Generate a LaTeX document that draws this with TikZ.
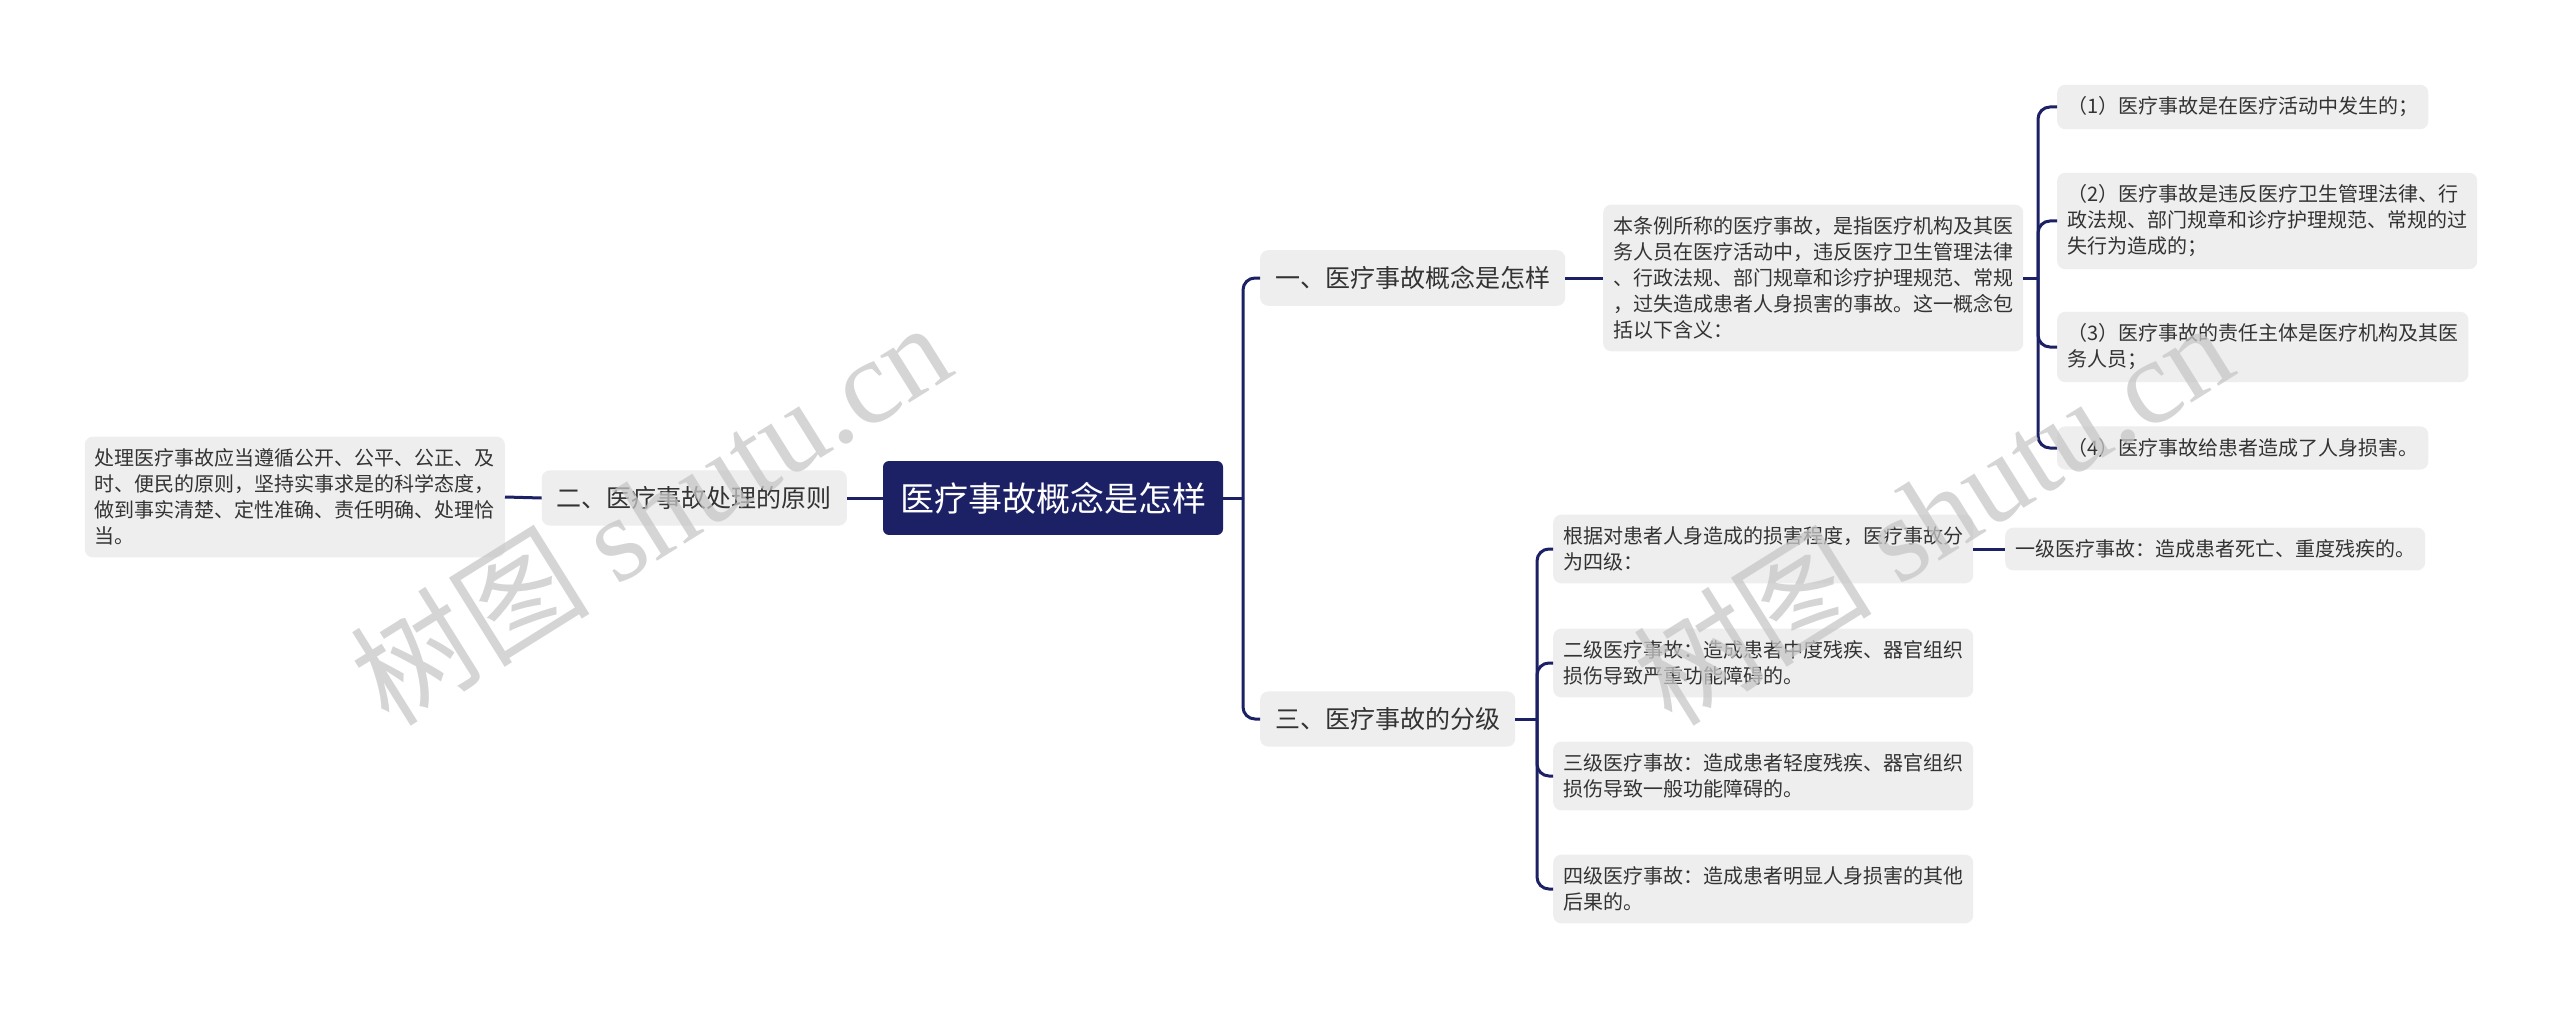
\documentclass[tikz,border=0pt]{standalone}
\usepackage{fontspec}
\setmainfont{Noto Sans CJK SC}
\newfontfamily\wmserif{Liberation Serif}
\definecolor{navy}{RGB}{28,33,102}
\definecolor{boxgray}{RGB}{238,238,238}
\definecolor{inkgray}{RGB}{51,51,51}
\usetikzlibrary{positioning}

\begin{document}
\begin{tikzpicture}[x=1pt, y=-1pt,
    root/.style={fill=navy, rounded corners=6pt, text=white,
                 inner xsep=17pt, inner ysep=21pt, font=\fontsize{34}{40}\selectfont},
    branch/.style={fill=boxgray, rounded corners=8pt, text=inkgray,
                   inner xsep=15pt, inner ysep=16pt, font=\fontsize{25}{30}\selectfont},
    leaf/.style={fill=boxgray, rounded corners=8pt, text=inkgray, align=left,
                 inner xsep=10pt, inner ysep=12pt, font=\fontsize{20}{26}\selectfont},
    link/.style={navy, line width=3pt, rounded corners=12pt},
    mark wm/.style={rotate=32, text=black!22, opacity=0.75,
                    font=\fontsize{120}{120}\selectfont}]
  \useasboundingbox[fill=white] (0,0) rectangle (2560,1011);

  \node[root] (main) at (1053,498) {医疗事故概念是怎样};

  \node[branch, anchor=east] (p2) at (847,498) {二、医疗事故处理的原则};
  \node[leaf, anchor=east] (p2txt) at (505,497)
    {处理医疗事故应当遵循公开、公平、公正、及\\时、便民的原则，坚持实事求是的科学态度，\\做到事实清楚、定性准确、责任明确、处理恰\\当。};

  \node[branch, anchor=west] (p1) at (1260,278) {一、医疗事故概念是怎样};
  \node[leaf, anchor=west] (p1txt) at (1603,278)
    {本条例所称的医疗事故，是指医疗机构及其医\\务人员在医疗活动中，违反医疗卫生管理法律\\、行政法规、部门规章和诊疗护理规范、常规\\，过失造成患者人身损害的事故。这一概念包\\括以下含义：};
  \node[leaf, anchor=west] (c1) at (2057,107) {（1）医疗事故是在医疗活动中发生的；};
  \node[leaf, anchor=west] (c2) at (2057,221)
    {（2）医疗事故是违反医疗卫生管理法律、行\\政法规、部门规章和诊疗护理规范、常规的过\\失行为造成的；};
  \node[leaf, anchor=west] (c3) at (2057,347)
    {（3）医疗事故的责任主体是医疗机构及其医\\务人员；};
  \node[leaf, anchor=west] (c4) at (2057,448) {（4）医疗事故给患者造成了人身损害。};

  \node[branch, anchor=west] (p3) at (1260,719) {三、医疗事故的分级};
  \node[leaf, anchor=west] (g0) at (1553,549)
    {根据对患者人身造成的损害程度，医疗事故分\\为四级：};
  \node[leaf, anchor=west] (g1) at (2005,549) {一级医疗事故：造成患者死亡、重度残疾的。};
  \node[leaf, anchor=west] (g2) at (1553,663)
    {二级医疗事故：造成患者中度残疾、器官组织\\损伤导致严重功能障碍的。};
  \node[leaf, anchor=west] (g3) at (1553,776)
    {三级医疗事故：造成患者轻度残疾、器官组织\\损伤导致一般功能障碍的。};
  \node[leaf, anchor=west] (g4) at (1553,889)
    {四级医疗事故：造成患者明显人身损害的其他\\后果的。};

  \coordinate (t0) at (1243,498);
  \coordinate (t1) at (2038,278);
  \coordinate (t3) at (1537,719);

  \draw[link] (main.west) -- (p2.east);
  \draw[link] (p2.west) -- (p2txt.east);
  \draw[link] (main.east) -- (t0);
  \draw[link] (t0) |- (p1.west);
  \draw[link] (t0) |- (p3.west);
  \draw[link] (p1.east) -- (p1txt.west);
  \draw[link] (p1txt.east) -- (t1);
  \foreach \c in {c1,c2,c3,c4}
    \draw[link] (t1) |- (\c.west);
  \draw[link] (p3.east) -- (t3);
  \foreach \g in {g0,g2,g3,g4}
    \draw[link] (t3) |- (\g.west);
  \draw[link] (g0.east) -- (g1.west);

  \node[mark wm] (wmleft) at (650,512) {树图 {\wmserif shutu.cn}};
  \node[mark wm] (wmright) at (1932,512) {树图 {\wmserif shutu.cn}};
\end{tikzpicture}
\end{document}
